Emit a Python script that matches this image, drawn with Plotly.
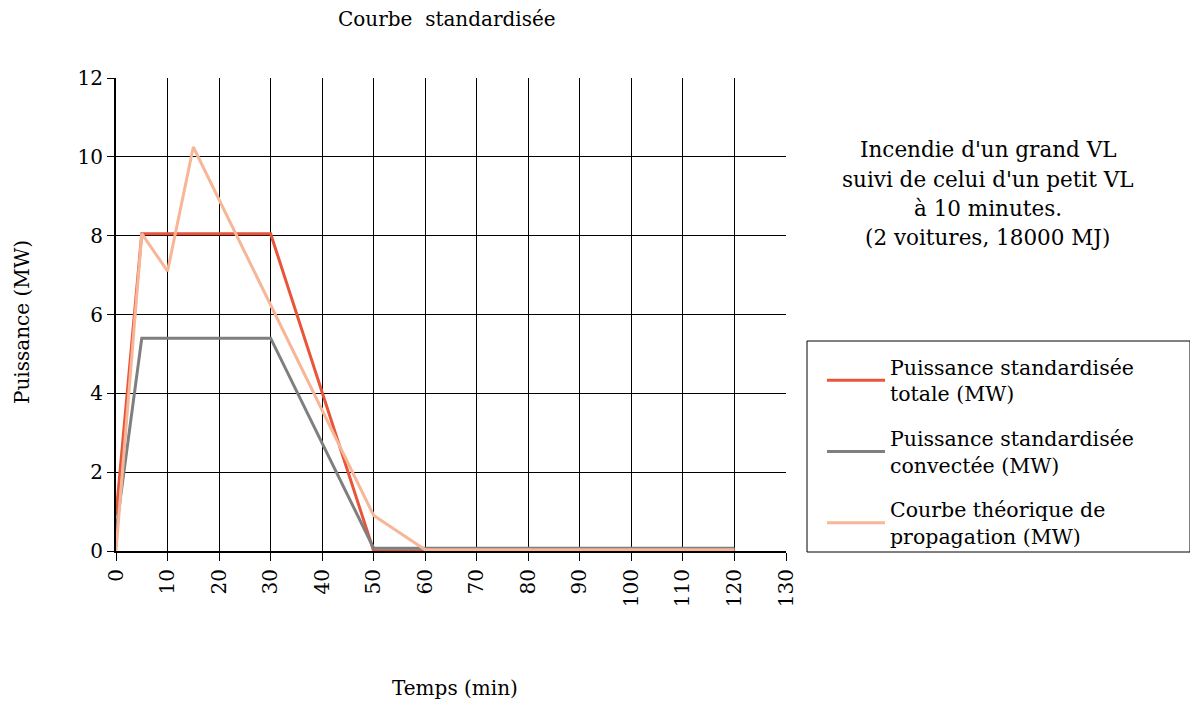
import plotly.graph_objects as go

# Data
t_total = [0, 5, 30, 50, 120]
p_total = [0.9, 8.05, 8.05, 0.0, 0.0]

t_conv = [0, 5, 30, 50, 120]
p_conv = [0.5, 5.4, 5.4, 0.07, 0.07]

t_theo = [0, 5, 10, 15, 50, 60, 120]
p_theo = [0.0, 8.05, 7.1, 10.25, 0.9, 0.03, 0.03]

names = [
    "Puissance standardisée<br>totale (MW)",
    "Puissance standardisée<br>convectée (MW)",
    "Courbe théorique de<br>propagation (MW)",
]
colors = ["#E8553A", "#7F7F7F", "#F7B697"]

x_ticks = list(range(0, 131, 10))
y_ticks = list(range(0, 13, 2))

note_lines = [
    "Incendie d'un grand VL",
    "suivi de celui d'un petit VL",
    "à 10 minutes.",
    "(2 voitures, 18000 MJ)",
]

FONT = "DejaVu Serif"

# page body has an 8px margin, so the figure is drawn 8px smaller
W, H = 1190, 699
ML, MT, PW, PH = 108, 70, 670, 473


def px(X):  # screen x -> paper
    return (X - 116) / PW


def py(Y):  # screen y -> paper
    return (551 - Y) / PH


fig = go.Figure()
for i, (xs, ys) in enumerate([(t_total, p_total), (t_conv, p_conv), (t_theo, p_theo)]):
    fig.add_trace(go.Scatter(
        x=xs, y=ys, mode="lines", name=names[i],
        line=dict(color=colors[i], width=3),
        legendgroup=str(i),
    ))

annotations = [
    dict(text="Courbe  standardisée", xref="paper", yref="paper", x=px(447), y=py(19),
         xanchor="center", yanchor="middle", showarrow=False, font=dict(size=20)),
    dict(text="Temps (min)", xref="paper", yref="paper", x=px(455), y=py(688),
         xanchor="center", yanchor="middle", showarrow=False, font=dict(size=20)),
    dict(text="Puissance (MW)", xref="paper", yref="paper", x=px(22), y=py(322),
         xanchor="center", yanchor="middle", showarrow=False, textangle=-90,
         font=dict(size=20)),
]
for k, line in enumerate(note_lines):
    annotations.append(dict(
        text=line, xref="paper", yref="paper", x=px(988), y=py(150 + 29 * k),
        xanchor="center", yanchor="middle", showarrow=False, font=dict(size=21.5),
    ))

fig.update_layout(
    width=W, height=H,
    margin=dict(l=ML, r=W - ML - PW, t=MT, b=H - MT - PH, autoexpand=False),
    paper_bgcolor="white", plot_bgcolor="white",
    font=dict(family=FONT, size=20, color="black"),
    showlegend=True,
    legend=dict(
        x=px(822), xanchor="left",
        y=py(347), yanchor="top",
        borderwidth=0, bgcolor="rgba(0,0,0,0)",
        font=dict(size=20.5), traceorder="grouped", tracegroupgap=15,
        itemwidth=58,
    ),
    xaxis=dict(
        range=[0, 130], tickvals=x_ticks, ticktext=[str(v) for v in x_ticks],
        tickangle=-90, showgrid=True, gridcolor="black", gridwidth=1,
        showline=True, linecolor="black", linewidth=2,
        ticks="outside", ticklen=8, tickcolor="black",
        zeroline=False, tickfont=dict(size=20),
    ),
    yaxis=dict(
        range=[0, 12], tickvals=y_ticks, showgrid=True, gridcolor="black", gridwidth=1,
        showline=True, linecolor="black", linewidth=2,
        ticks="outside", ticklen=7, tickcolor="black",
        zeroline=False, tickfont=dict(size=20),
    ),
    shapes=[dict(
        type="rect", xref="paper", yref="paper",
        x0=px(807), x1=px(1190), y0=py(552), y1=py(341),
        line=dict(color="black", width=1), fillcolor="rgba(0,0,0,0)",
    )],
    annotations=annotations,
)

fig.write_html("out.html")
